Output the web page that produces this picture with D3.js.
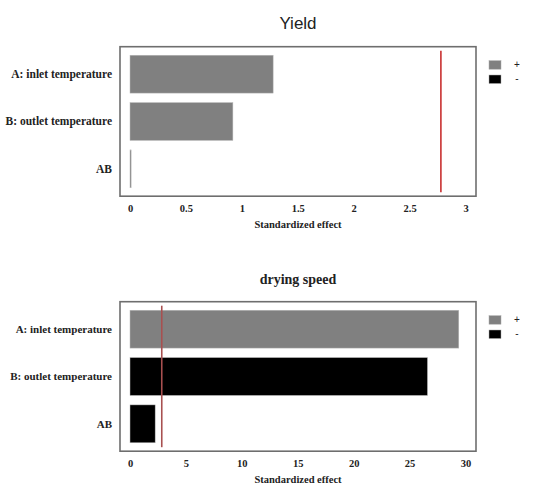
<!DOCTYPE html>
<html><head><meta charset="utf-8">
<script src="https://cdn.jsdelivr.net/npm/d3@7"></script>
<style>body{margin:0;background:#fff}</style>
</head><body>
<script>
const categories = ["A: inlet  temperature", "B: outlet  temperature", "AB"];
const categories2 = ["A: inlet temperature", "B: outlet temperature", "AB"];
const yieldEffects = [1.28, 0.92, 0.01];
const yieldSigns = ["+", "+", "+"];
const yieldCritical = 2.78;
const yieldTicks = [0, 0.5, 1, 1.5, 2, 2.5, 3];
const dryingEffects = [29.4, 26.6, 2.25];
const dryingSigns = ["+", "-", "-"];
const dryingCritical = 2.84;
const dryingTicks = [0, 5, 10, 15, 20, 25, 30];
const legendItems = ["+", "-"];

const W = 539, H = 487;
const svg = d3.select("body").append("svg").attr("width", W).attr("height", H);
const serif = "'Liberation Serif','Times New Roman',serif";
const colorOf = s => s === "+" ? "#808080" : "#000000";

function panel(top, cats, vals, signs, crit, ticks, title, titleStyle, labelSize, critColor) {
  const g = svg.append("g").attr("transform", `translate(0,${top})`);
  const frameL = 120, frameR = 476, frameH = 149.5;
  const x = d3.scaleLinear().domain([ticks[0], ticks[ticks.length - 1]]).range([130, 465.5]);
  const y = d3.scaleBand().domain(cats).range([3.8, 145.8]).paddingInner(0.2).paddingOuter(0.1);

  // title
  const t = g.append("text").attr("x", 298).attr("text-anchor", "middle").text(title);
  if (titleStyle === "sans") {
    t.attr("y", -18).attr("font-family", "'Liberation Sans',Arial,sans-serif").attr("font-size", 17).attr("fill", "#222");
  } else {
    t.attr("y", -18).attr("font-family", serif).attr("font-weight", "bold").attr("font-size", 14).attr("fill", "#222");
  }

  // bars
  g.selectAll("rect.bar").data(cats).join("rect").attr("class", "bar")
    .attr("x", x(0)).attr("y", d => y(d))
    .attr("width", (d, i) => Math.max(1, x(vals[i]) - x(0)))
    .attr("height", y.bandwidth())
    .attr("fill", (d, i) => colorOf(signs[i]))
    .attr("stroke", "#bbb").attr("stroke-width", 0.5);

  // critical line
  g.append("line").attr("x1", x(crit)).attr("x2", x(crit))
    .attr("y1", 4).attr("y2", frameH - 4)
    .attr("stroke", critColor).attr("stroke-width", 1.6);

  // frame
  g.append("rect").attr("x", frameL).attr("y", 0).attr("width", frameR - frameL).attr("height", frameH)
    .attr("fill", "none").attr("stroke", "#6e6e6e").attr("stroke-width", 1.6);

  // y labels
  g.selectAll("text.ylab").data(cats).join("text").attr("class", "ylab")
    .attr("x", 112).attr("y", d => y(d) + y.bandwidth() / 2 + 4)
    .attr("text-anchor", "end").attr("font-family", serif).attr("font-weight", "bold")
    .attr("font-size", labelSize).attr("fill", "#222").text(d => d);

  // x axis labels
  const ax = g.append("g").attr("transform", `translate(0,${frameH})`)
    .call(d3.axisBottom(x).tickValues(ticks).tickSize(0).tickPadding(8).tickFormat(d => String(d)));
  ax.select(".domain").remove();
  ax.selectAll("text").attr("font-family", serif).attr("font-weight", "bold").attr("font-size", 10.5).attr("fill", "#222");

  g.append("text").attr("x", 298).attr("y", frameH + 32).attr("text-anchor", "middle")
    .attr("font-family", serif).attr("font-weight", "bold").attr("font-size", 10.5).attr("fill", "#222")
    .text("Standardized effect");

  // legend
  const lg = g.selectAll("g.leg").data(legendItems).join("g").attr("class", "leg")
    .attr("transform", (d, i) => `translate(489,${14 + i * 14.3})`);
  lg.append("rect").attr("width", 12).attr("height", 8.5).attr("fill", d => colorOf(d)).attr("stroke", "#aaa").attr("stroke-width", 0.5);
  lg.append("text").attr("x", 28).attr("y", 7).attr("text-anchor", "middle")
    .attr("font-family", "'Liberation Sans',Arial,sans-serif").attr("font-size", 10).attr("fill", "#222").text(d => d);
}

panel(46.7, categories, yieldEffects, yieldSigns, yieldCritical, yieldTicks, "Yield", "sans", 11.5, "#c83030");
panel(301.7, categories2, dryingEffects, dryingSigns, dryingCritical, dryingTicks, "drying speed", "serif", 11, "#a85050");
</script>
</body></html>
